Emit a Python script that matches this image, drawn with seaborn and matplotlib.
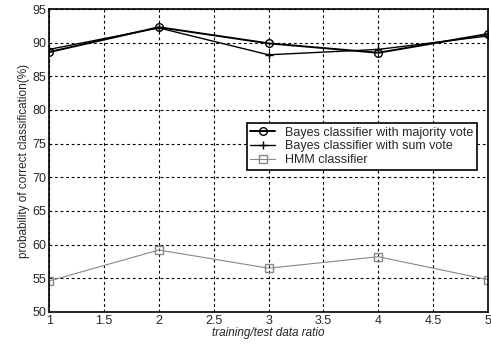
import matplotlib.pyplot as plt
import seaborn as sns

ratio = [1, 2, 3, 4, 5]
majority_vote = [88.6, 92.3, 89.9, 88.5, 91.3]
sum_vote = [89.0, 92.2, 88.2, 89.0, 91.0]
hmm = [54.6, 59.2, 56.5, 58.2, 54.8]

labels = ['Bayes classifier with majority vote',
          'Bayes classifier with sum vote',
          'HMM classifier']

sns.set_style('white')
plt.rcParams['font.family'] = ['Liberation Sans', 'DejaVu Sans']

fig = plt.figure(figsize=(4.91, 3.47), dpi=100)
ax = fig.add_axes([0.1, 0.101, 0.894, 0.873])

styles = [('black', 'o', 1.4), ('black', '+', 1.0), ('#888888', 's', 0.8)]
for vals, lab, (c, m, lw) in zip([majority_vote, sum_vote, hmm], labels, styles):
    sns.lineplot(x=ratio, y=vals, label=lab, color=c, marker=m, linewidth=lw,
                 markersize=5.5, markerfacecolor='none', markeredgecolor=c,
                 markeredgewidth=1.0, ax=ax)

ax.set_xlim(1, 5)
ax.set_ylim(50, 95)
ax.set_xticks([1, 1.5, 2, 2.5, 3, 3.5, 4, 4.5, 5])
ax.set_xticklabels(['1', '1.5', '2', '2.5', '3', '3.5', '4', '4.5', '5'])
ax.set_yticks(range(50, 96, 5))
ax.grid(True, color='black', linestyle=(0, (2.5, 2.5)), linewidth=0.8)
for s in ax.spines.values():
    s.set_color('black')
    s.set_linewidth(1.2)
ax.tick_params(labelsize=9, pad=2, direction='in', length=2)
ax.set_xlabel('training/test data ratio', fontsize=8.5, style='italic', labelpad=0)
ax.set_ylabel('probability of correct classification(%)', fontsize=8.5, labelpad=2)

leg = ax.legend(loc='upper right', bbox_to_anchor=(0.99, 0.645), fontsize=9,
                frameon=True, fancybox=False, edgecolor='black',
                handlelength=2.0, borderpad=0.3, labelspacing=0.15)
leg.get_frame().set_linewidth(1.2)
leg.get_frame().set_alpha(1)

fig.savefig('out.png', dpi=100)
